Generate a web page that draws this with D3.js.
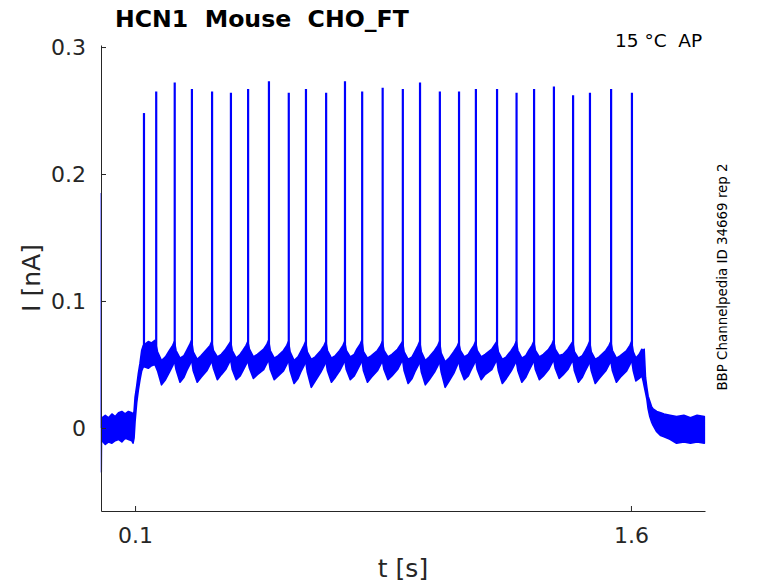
<!DOCTYPE html>
<html><head><meta charset="utf-8">
<script src="https://cdn.jsdelivr.net/npm/d3@7"></script>
<style>body{margin:0;background:#fff} svg{display:block} text{white-space:pre}</style>
</head><body><svg id="chart" width="778" height="583"></svg>
<script>
const titleText = "HCN1  Mouse  CHO_FT";
const conditionText = "15 °C  AP";
const sourceText = "BBP Channelpedia ID 34669 rep 2";
const xLabel = "t [s]";
const yLabel = "I [nA]";
const xTicks = [0.1, 1.6];
const yTicks = [0, 0.1, 0.2, 0.3];
const xDomain = [-0.003, 1.824];
const yDomain = [-0.0654, 0.3016];

// capacitive transient at the start of the sweep
const onsetTime = [-0.0025, -0.0022, -0.0018, -0.0012, 0.001];
const onsetCurrent = [0.0, 0.185, -0.035, -0.012, -0.006];

// action-current spikes: time (s) and peak (nA)
const spikeTimes = [0.127, 0.164, 0.220, 0.272, 0.333, 0.390, 0.442, 0.505, 0.565, 0.617,
  0.678, 0.735, 0.787, 0.849, 0.910, 0.962, 1.022, 1.080, 1.131, 1.195,
  1.254, 1.307, 1.367, 1.425, 1.476, 1.540, 1.603];
const spikePeaks = [0.248, 0.265, 0.272, 0.267, 0.265, 0.264, 0.267, 0.273, 0.264, 0.267,
  0.264, 0.273, 0.265, 0.268, 0.267, 0.272, 0.265, 0.265, 0.267, 0.267,
  0.264, 0.267, 0.269, 0.262, 0.264, 0.267, 0.264];
const spikeBase = 0.055;

// noisy trace band: [time (s), upper edge (nA), lower edge (nA)]
const traceEnvelope = [
  [0.000, 0.008, -0.010], [0.010, 0.010, -0.013], [0.020, 0.008, -0.011], [0.030, 0.011, -0.012],
  [0.040, 0.009, -0.010], [0.050, 0.012, -0.009], [0.060, 0.013, -0.011], [0.070, 0.011, -0.008],
  [0.080, 0.013, -0.009], [0.090, 0.012, -0.010], [0.094, 0.011, -0.012],
  [0.097, 0.013, -0.008], [0.100, 0.024, 0.005], [0.105, 0.033, 0.020], [0.110, 0.043, 0.030],
  [0.115, 0.051, 0.038], [0.120, 0.061, 0.045], [0.125, 0.065, 0.048],
  [0.130, 0.066, 0.048], [0.140, 0.068, 0.047], [0.150, 0.067, 0.049], [0.160, 0.069, 0.050],
  [0.168, 0.060, 0.045], [0.180, 0.053, 0.034], [0.192, 0.056, 0.038], [0.204, 0.061, 0.044], [0.214, 0.065, 0.049], [0.219, 0.068, 0.053],
  [0.224, 0.061, 0.046], [0.236, 0.055, 0.036], [0.248, 0.057, 0.040], [0.256, 0.061, 0.045], [0.266, 0.066, 0.050], [0.271, 0.069, 0.054],
  [0.276, 0.060, 0.045], [0.288, 0.054, 0.036], [0.300, 0.057, 0.040], [0.317, 0.062, 0.045], [0.327, 0.065, 0.050], [0.332, 0.068, 0.053],
  [0.337, 0.061, 0.047], [0.349, 0.056, 0.038], [0.361, 0.058, 0.042], [0.374, 0.062, 0.046], [0.384, 0.066, 0.051], [0.389, 0.068, 0.054],
  [0.394, 0.061, 0.046], [0.406, 0.055, 0.038], [0.418, 0.058, 0.041], [0.426, 0.061, 0.045], [0.436, 0.065, 0.050], [0.441, 0.068, 0.053],
  [0.446, 0.062, 0.047], [0.458, 0.056, 0.039], [0.470, 0.058, 0.042], [0.489, 0.062, 0.046], [0.499, 0.066, 0.051], [0.504, 0.069, 0.054],
  [0.509, 0.061, 0.046], [0.521, 0.055, 0.038], [0.533, 0.057, 0.041], [0.549, 0.061, 0.045], [0.559, 0.065, 0.050], [0.564, 0.068, 0.054],
  [0.569, 0.060, 0.045], [0.581, 0.053, 0.035], [0.593, 0.056, 0.039], [0.601, 0.060, 0.044], [0.611, 0.065, 0.049], [0.616, 0.068, 0.053],
  [0.621, 0.060, 0.044], [0.633, 0.054, 0.032], [0.645, 0.056, 0.037], [0.662, 0.061, 0.044], [0.672, 0.065, 0.049], [0.677, 0.068, 0.053],
  [0.682, 0.061, 0.045], [0.694, 0.055, 0.036], [0.706, 0.057, 0.040], [0.719, 0.061, 0.045], [0.729, 0.065, 0.050], [0.734, 0.068, 0.054],
  [0.739, 0.061, 0.046], [0.751, 0.056, 0.038], [0.763, 0.058, 0.041], [0.771, 0.062, 0.045], [0.781, 0.066, 0.050], [0.786, 0.069, 0.054],
  [0.791, 0.060, 0.045], [0.803, 0.055, 0.036], [0.815, 0.057, 0.040], [0.833, 0.061, 0.045], [0.843, 0.065, 0.050], [0.848, 0.068, 0.053],
  [0.853, 0.061, 0.046], [0.865, 0.056, 0.038], [0.877, 0.058, 0.041], [0.894, 0.062, 0.046], [0.904, 0.066, 0.051], [0.909, 0.068, 0.054],
  [0.914, 0.060, 0.045], [0.926, 0.054, 0.035], [0.938, 0.056, 0.039], [0.946, 0.060, 0.044], [0.956, 0.065, 0.049], [0.961, 0.068, 0.053],
  [0.966, 0.060, 0.044], [0.978, 0.053, 0.034], [0.990, 0.056, 0.038], [1.006, 0.061, 0.044], [1.016, 0.065, 0.049], [1.021, 0.068, 0.053],
  [1.026, 0.059, 0.044], [1.038, 0.052, 0.032], [1.050, 0.055, 0.037], [1.064, 0.060, 0.043], [1.074, 0.064, 0.049], [1.079, 0.067, 0.053],
  [1.084, 0.061, 0.046], [1.096, 0.056, 0.038], [1.108, 0.058, 0.041], [1.115, 0.061, 0.045], [1.125, 0.065, 0.050], [1.130, 0.068, 0.054],
  [1.135, 0.061, 0.046], [1.147, 0.056, 0.038], [1.159, 0.058, 0.042], [1.179, 0.062, 0.046], [1.189, 0.066, 0.051], [1.194, 0.068, 0.054],
  [1.199, 0.060, 0.045], [1.211, 0.054, 0.035], [1.223, 0.056, 0.039], [1.238, 0.061, 0.045], [1.248, 0.065, 0.050], [1.253, 0.068, 0.053],
  [1.258, 0.061, 0.045], [1.270, 0.055, 0.036], [1.282, 0.057, 0.040], [1.291, 0.061, 0.045], [1.301, 0.065, 0.050], [1.306, 0.068, 0.054],
  [1.311, 0.061, 0.046], [1.323, 0.056, 0.038], [1.335, 0.058, 0.041], [1.351, 0.062, 0.046], [1.361, 0.066, 0.051], [1.366, 0.069, 0.054],
  [1.371, 0.062, 0.047], [1.383, 0.057, 0.039], [1.395, 0.058, 0.042], [1.409, 0.062, 0.046], [1.419, 0.066, 0.051], [1.424, 0.068, 0.054],
  [1.429, 0.060, 0.045], [1.441, 0.055, 0.036], [1.453, 0.057, 0.040], [1.460, 0.060, 0.044], [1.470, 0.065, 0.049], [1.475, 0.068, 0.053],
  [1.480, 0.060, 0.045], [1.492, 0.054, 0.035], [1.504, 0.056, 0.039], [1.524, 0.061, 0.045], [1.534, 0.065, 0.050], [1.539, 0.068, 0.053],
  [1.544, 0.061, 0.045], [1.556, 0.055, 0.036], [1.568, 0.057, 0.040], [1.587, 0.061, 0.045], [1.597, 0.065, 0.050], [1.602, 0.068, 0.054],
  [1.607, 0.060, 0.045], [1.615, 0.055, 0.037], [1.625, 0.058, 0.039], [1.633, 0.062, 0.041], [1.637, 0.061, 0.037],
  [1.640, 0.062, 0.033], [1.644, 0.040, 0.028], [1.648, 0.032, 0.023], [1.652, 0.025, 0.015],
  [1.657, 0.021, 0.009], [1.662, 0.017, 0.005], [1.667, 0.015, 0.002], [1.678, 0.013, -0.003],
  [1.690, 0.012, -0.006], [1.700, 0.011, -0.007], [1.718, 0.010, -0.009], [1.738, 0.009, -0.012],
  [1.760, 0.010, -0.011], [1.780, 0.008, -0.012], [1.800, 0.010, -0.011], [1.822, 0.009, -0.012]
];

const svg = d3.select("#chart");
const font = "'DejaVu Sans', sans-serif";
const axisColor = "#262626";
const traceColor = "#0000ff";

const x = d3.scaleLinear().domain(xDomain).range([101, 705]);
const y = d3.scaleLinear().domain(yDomain).range([511, 45]);

// trace band
const area = d3.area()
  .x(d => x(d[0]))
  .y0(d => y(d[2]))
  .y1(d => y(d[1]));
svg.append("path")
  .datum(traceEnvelope)
  .attr("d", area)
  .attr("fill", traceColor)
  .attr("stroke", traceColor)
  .attr("stroke-width", 1.6)
  .attr("stroke-linejoin", "round");

// onset transient
svg.append("path")
  .datum(d3.zip(onsetTime, onsetCurrent))
  .attr("d", d3.line().x(d => x(d[0])).y(d => y(d[1])))
  .attr("fill", "none")
  .attr("stroke", traceColor)
  .attr("stroke-width", 1.3);

// spikes
svg.append("g").selectAll("line")
  .data(d3.zip(spikeTimes, spikePeaks))
  .join("line")
  .attr("x1", d => x(d[0])).attr("x2", d => x(d[0]))
  .attr("y1", y(spikeBase)).attr("y2", d => y(d[1]))
  .attr("stroke", traceColor)
  .attr("stroke-width", 2.2);

// axes
const fmt = d => d === 0 ? "0" : d3.format(".1f")(d);
const yAxis = svg.append("g")
  .attr("transform", `translate(${x.range()[0]},0)`)
  .call(d3.axisLeft(y).tickValues(yTicks).tickFormat(fmt).tickSizeInner(-5).tickSizeOuter(0).tickPadding(15));
const xAxis = svg.append("g")
  .attr("transform", `translate(0,${y.range()[0]})`)
  .call(d3.axisBottom(x).tickValues(xTicks).tickFormat(fmt).tickSizeInner(-5).tickSizeOuter(0).tickPadding(16));
[xAxis, yAxis].forEach(g => {
  g.select(".domain").attr("stroke", axisColor);
  g.selectAll(".tick line").attr("stroke", axisColor);
  g.selectAll(".tick text").attr("fill", axisColor)
    .style("font-family", font).style("font-size", "22px");
});

// labels
svg.append("text")
  .attr("x", 403).attr("y", 577)
  .attr("text-anchor", "middle")
  .style("font-family", font).style("font-size", "25px").attr("fill", axisColor)
  .text(xLabel);
svg.append("text")
  .attr("transform", "translate(40,278) rotate(-90)")
  .attr("text-anchor", "middle")
  .style("font-family", font).style("font-size", "25px").attr("fill", axisColor)
  .text(yLabel);

svg.append("text")
  .attr("x", 115).attr("y", 27)
  .attr("xml:space", "preserve")
  .style("font-family", font).style("font-size", "23.6px").style("font-weight", "bold")
  .attr("fill", "#000")
  .text(titleText);
svg.append("text")
  .attr("x", 615).attr("y", 47)
  .attr("xml:space", "preserve")
  .style("font-family", font).style("font-size", "18.5px")
  .attr("fill", "#000")
  .text(conditionText);
svg.append("text")
  .attr("transform", "translate(727,277) rotate(-90)")
  .attr("text-anchor", "middle")
  .style("font-family", font).style("font-size", "13.4px")
  .attr("fill", "#000")
  .text(sourceText);
</script>
</body></html>
